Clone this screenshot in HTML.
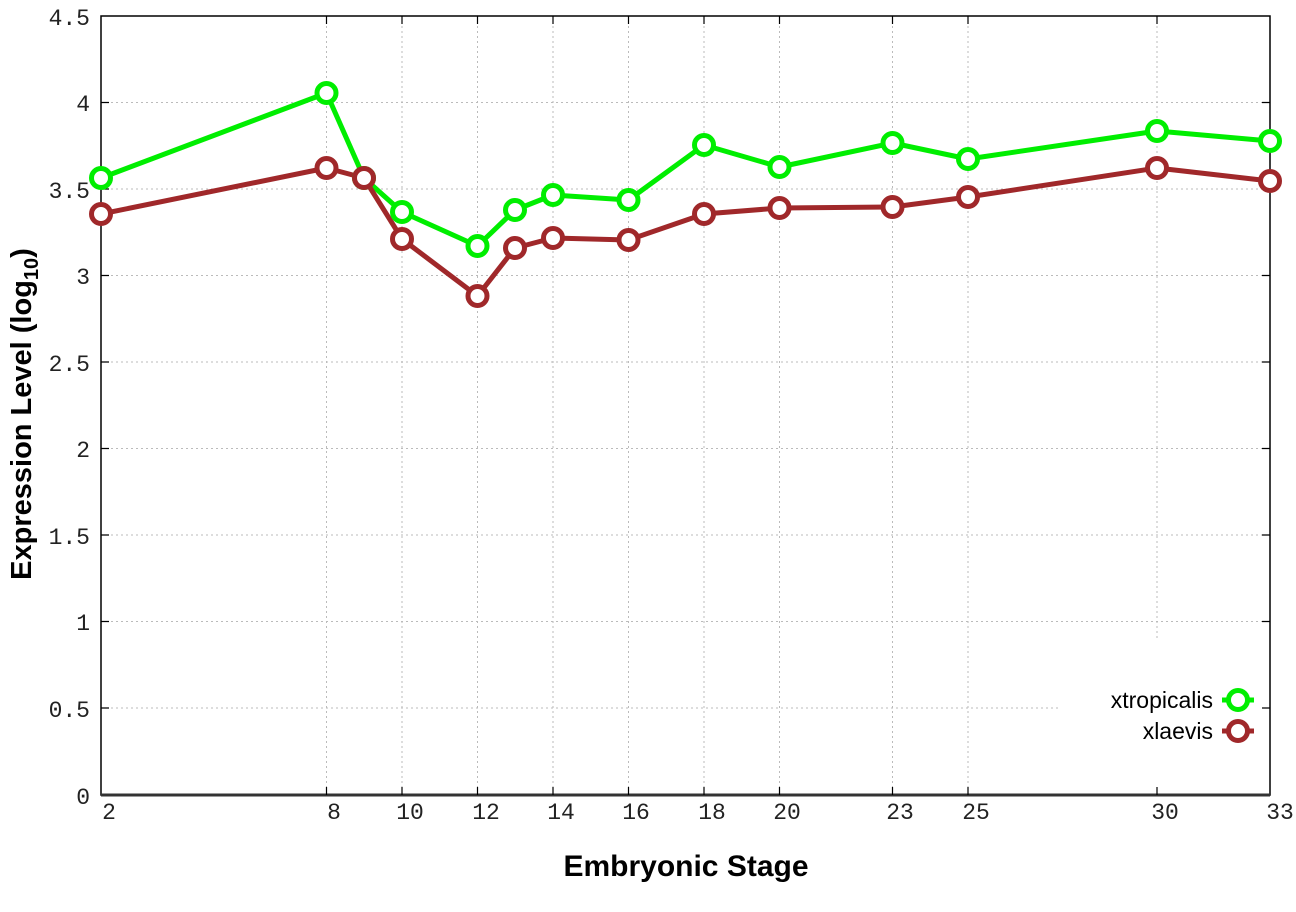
<!DOCTYPE html>
<html><head><style>body{margin:0;background:#fff}</style></head><body>
<svg width="1296" height="907" xmlns="http://www.w3.org/2000/svg">
<rect width="1296" height="907" fill="#fff"/>
<g stroke="#bbb" stroke-width="1" stroke-dasharray="2,3">
<line x1="101" x2="1270" y1="102.5" y2="102.5"/>
<line x1="101" x2="1270" y1="189" y2="189"/>
<line x1="101" x2="1270" y1="275.5" y2="275.5"/>
<line x1="101" x2="1270" y1="362" y2="362"/>
<line x1="101" x2="1270" y1="448.5" y2="448.5"/>
<line x1="101" x2="1270" y1="535" y2="535"/>
<line x1="101" x2="1270" y1="621.5" y2="621.5"/>
<line x1="101" x2="1060" y1="708" y2="708"/>
<line x1="326.5" x2="326.5" y1="16" y2="795"/>
<line x1="402" x2="402" y1="16" y2="795"/>
<line x1="477.5" x2="477.5" y1="16" y2="795"/>
<line x1="553" x2="553" y1="16" y2="795"/>
<line x1="628.5" x2="628.5" y1="16" y2="795"/>
<line x1="704" x2="704" y1="16" y2="795"/>
<line x1="779.5" x2="779.5" y1="16" y2="795"/>
<line x1="892.5" x2="892.5" y1="16" y2="795"/>
<line x1="968" x2="968" y1="16" y2="795"/>
<line x1="1157" x2="1157" y1="16" y2="640"/>
</g>
<rect x="101" y="16" width="1169" height="779" fill="none" stroke="#000" stroke-width="1.5"/>
<line x1="101" x2="1270" y1="795" y2="795" stroke="#333" stroke-width="3"/>
<g stroke="#000" stroke-width="1.2">
<path d="M101 102.5h8M101 189h8M101 275.5h8M101 362h8M101 448.5h8M101 535h8M101 621.5h8M101 708h8M1270 102.5h-8M1270 189h-8M1270 275.5h-8M1270 362h-8M1270 448.5h-8M1270 535h-8M1270 621.5h-8M1270 708h-8"/>
<path d="M326.5 795v-8M402 795v-8M477.5 795v-8M553 795v-8M628.5 795v-8M704 795v-8M779.5 795v-8M892.5 795v-8M968 795v-8M1157 795v-8M326.5 16v8M402 16v8M477.5 16v8M553 16v8M628.5 16v8M704 16v8M779.5 16v8M892.5 16v8M968 16v8M1157 16v8"/>
</g>
<g font-family="Liberation Mono, monospace" font-size="23" fill="#222" text-anchor="end">
<text x="90" y="25">4.5</text><text x="90" y="111">4</text><text x="90" y="198">3.5</text><text x="90" y="284">3</text><text x="90" y="371">2.5</text><text x="90" y="457">2</text><text x="90" y="544">1.5</text><text x="90" y="630">1</text><text x="90" y="717">0.5</text><text x="90" y="804">0</text>
</g>
<g font-family="Liberation Mono, monospace" font-size="23" fill="#222" text-anchor="middle">
<text x="109" y="819">2</text><text x="334" y="819">8</text><text x="410" y="819">10</text><text x="486" y="819">12</text><text x="561" y="819">14</text><text x="636" y="819">16</text><text x="712" y="819">18</text><text x="787" y="819">20</text><text x="900" y="819">23</text><text x="976" y="819">25</text><text x="1165" y="819">30</text><text x="1280" y="819">33</text>
</g>
<polyline fill="none" stroke="#00ee00" stroke-width="5" stroke-linejoin="round" points="101,178 326.5,93 364,178 402,212 477.5,246 515,210 553,195 628.5,200 704,145 779.5,167 892.5,143 968,159 1157,131 1270,141"/>
<polyline fill="none" stroke="#a0282a" stroke-width="5" stroke-linejoin="round" points="101,214 326.5,168 364,178 402,239 477.5,296 515,248 553,238 628.5,240 704,214 779.5,208 892.5,207 968,197 1157,168 1270,181"/>
<g fill="#fff" stroke="#00ee00" stroke-width="5">
<circle cx="101" cy="178" r="9.5"/><circle cx="326.5" cy="93" r="9.5"/><circle cx="364" cy="178" r="9.5"/><circle cx="402" cy="212" r="9.5"/><circle cx="477.5" cy="246" r="9.5"/><circle cx="515" cy="210" r="9.5"/><circle cx="553" cy="195" r="9.5"/><circle cx="628.5" cy="200" r="9.5"/><circle cx="704" cy="145" r="9.5"/><circle cx="779.5" cy="167" r="9.5"/><circle cx="892.5" cy="143" r="9.5"/><circle cx="968" cy="159" r="9.5"/><circle cx="1157" cy="131" r="9.5"/><circle cx="1270" cy="141" r="9.5"/>
</g>
<g fill="#fff" stroke="#a0282a" stroke-width="5">
<circle cx="101" cy="214" r="9.5"/><circle cx="326.5" cy="168" r="9.5"/><circle cx="364" cy="178" r="9.5"/><circle cx="402" cy="239" r="9.5"/><circle cx="477.5" cy="296" r="9.5"/><circle cx="515" cy="248" r="9.5"/><circle cx="553" cy="238" r="9.5"/><circle cx="628.5" cy="240" r="9.5"/><circle cx="704" cy="214" r="9.5"/><circle cx="779.5" cy="208" r="9.5"/><circle cx="892.5" cy="207" r="9.5"/><circle cx="968" cy="197" r="9.5"/><circle cx="1157" cy="168" r="9.5"/><circle cx="1270" cy="181" r="9.5"/>
</g>
<g font-family="Liberation Sans, sans-serif" font-size="23" fill="#000" text-anchor="end">
<text x="1213" y="708">xtropicalis</text><text x="1213" y="739">xlaevis</text>
</g>
<line x1="1222" x2="1254" y1="700" y2="700" stroke="#00ee00" stroke-width="5"/>
<circle cx="1238" cy="700" r="9.5" fill="#fff" stroke="#00ee00" stroke-width="5"/>
<line x1="1222" x2="1254" y1="731" y2="731" stroke="#a0282a" stroke-width="5"/>
<circle cx="1238" cy="731" r="9.5" fill="#fff" stroke="#a0282a" stroke-width="5"/>
<text x="686" y="876" font-family="Liberation Sans, sans-serif" font-weight="bold" font-size="30" text-anchor="middle">Embryonic Stage</text>
<text transform="translate(31,414) rotate(-90)" font-family="Liberation Sans, sans-serif" font-weight="bold" font-size="29" text-anchor="middle">Expression Level (log<tspan font-size="20" dy="7">10</tspan><tspan dy="-7">)</tspan></text>
</svg>
</body></html>
